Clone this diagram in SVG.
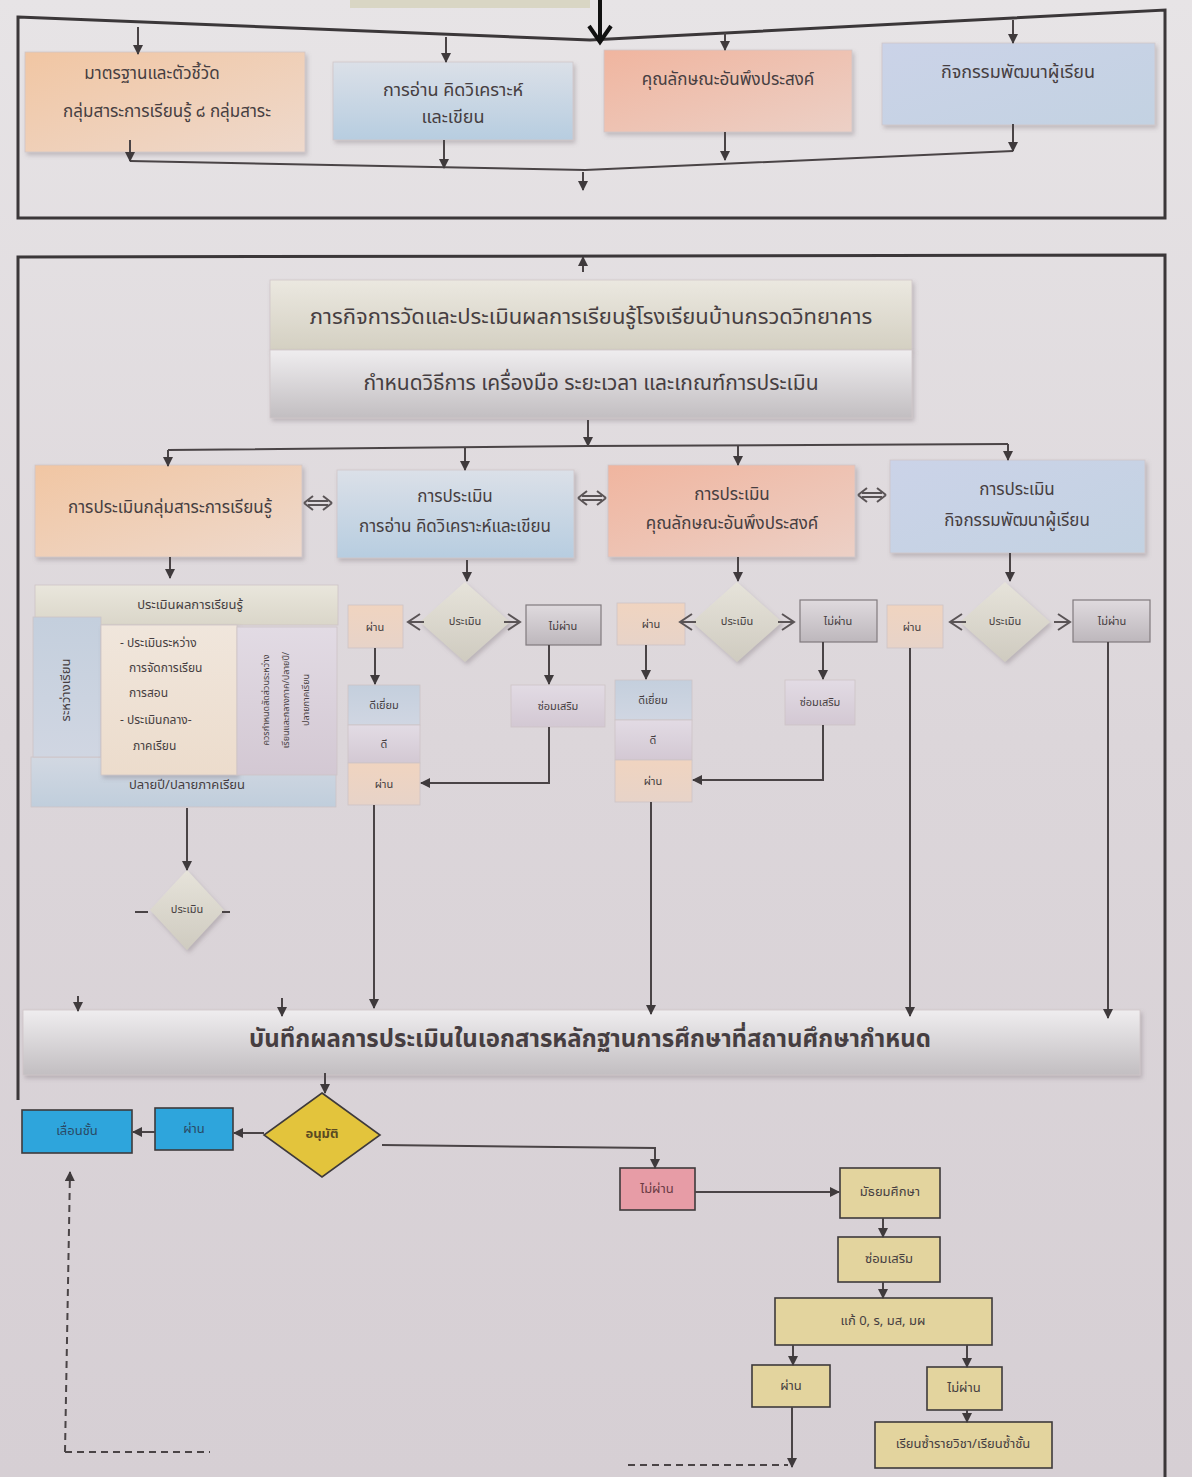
<svg xmlns="http://www.w3.org/2000/svg" width="1192" height="1477" viewBox="0 0 1192 1477">
<defs>
<style>
.t{font-family:"Noto Sans Thai","Noto Serif Thai","Loma","Garuda","Liberation Sans",sans-serif;fill:#463e41;text-anchor:middle;dominant-baseline:central}
.ln{fill:none;stroke:#4a4446;stroke-width:2}
.arr{marker-end:url(#ah)}
.frame{fill:none;stroke:#3b3739;stroke-width:3}
.bx{stroke:#cfc6c8;stroke-width:0.8;filter:url(#sh)}
.sb{stroke:#cdc4c6;stroke-width:0.8}
.gb{stroke:#807a7e;stroke-width:1.2}
.dk{stroke:#3e3a3b;stroke-width:1.6}
.dash{fill:none;stroke:#4a4446;stroke-width:2;stroke-dasharray:7 5}
.chev{fill:none;stroke:#5a5456;stroke-width:2}
</style>
<marker id="ah" viewBox="0 0 10 10" refX="9" refY="5" markerWidth="10" markerHeight="10" markerUnits="userSpaceOnUse" orient="auto-start-reverse"><path d="M0,0 L10,5 L0,10 z" fill="#3f3a3c"/></marker>
<filter id="sh" x="-5%" y="-5%" width="112%" height="120%"><feDropShadow dx="2" dy="3" stdDeviation="2" flood-color="#7a7075" flood-opacity="0.35"/></filter>
<linearGradient id="bg" x1="0" y1="0" x2="0" y2="1"><stop offset="0" stop-color="#e7e4e6"/><stop offset="0.5" stop-color="#dcd6da"/><stop offset="1" stop-color="#d6cfd4"/></linearGradient>
<linearGradient id="gO" x1="0" y1="0" x2="1" y2="1"><stop offset="0" stop-color="#f1c6a3"/><stop offset="1" stop-color="#eed9cc"/></linearGradient>
<linearGradient id="gB" x1="0" y1="0" x2="0" y2="1"><stop offset="0" stop-color="#dbe0e8"/><stop offset="1" stop-color="#b7cde0"/></linearGradient>
<linearGradient id="gS" x1="0" y1="0" x2="1" y2="1"><stop offset="0" stop-color="#f0b59f"/><stop offset="1" stop-color="#ecd0c6"/></linearGradient>
<linearGradient id="gL" x1="0" y1="0" x2="1" y2="1"><stop offset="0" stop-color="#cbd3e8"/><stop offset="1" stop-color="#c3d2e2"/></linearGradient>
<linearGradient id="gY" x1="0" y1="0" x2="0" y2="1"><stop offset="0" stop-color="#ebe8e0"/><stop offset="1" stop-color="#d4d0c2"/></linearGradient>
<linearGradient id="gG" x1="0" y1="0" x2="0" y2="1"><stop offset="0" stop-color="#efedef"/><stop offset="1" stop-color="#c2bec1"/></linearGradient>
<linearGradient id="gD" x1="0" y1="0" x2="0" y2="1"><stop offset="0" stop-color="#e6e3da"/><stop offset="1" stop-color="#cfcbc0"/></linearGradient>
<linearGradient id="gP" x1="0" y1="0" x2="0" y2="1"><stop offset="0" stop-color="#f0d4c0"/><stop offset="1" stop-color="#e7d3c8"/></linearGradient>
<linearGradient id="gN" x1="0" y1="0" x2="0" y2="1"><stop offset="0" stop-color="#dfdade"/><stop offset="1" stop-color="#bdb7bc"/></linearGradient>
<linearGradient id="gR" x1="0" y1="0" x2="0" y2="1"><stop offset="0" stop-color="#e2dbe4"/><stop offset="1" stop-color="#d3c8d3"/></linearGradient>
<linearGradient id="gX" x1="0" y1="0" x2="0" y2="1"><stop offset="0" stop-color="#c4cfdd"/><stop offset="1" stop-color="#d0d6e2"/></linearGradient>
<linearGradient id="gH" x1="0" y1="0" x2="0" y2="1"><stop offset="0" stop-color="#e9e6dc"/><stop offset="1" stop-color="#dad6c9"/></linearGradient>
<linearGradient id="gC" x1="0" y1="0" x2="0" y2="1"><stop offset="0" stop-color="#f0e6dc"/><stop offset="1" stop-color="#ecdccc"/></linearGradient>
<linearGradient id="gQ" x1="0" y1="0" x2="0" y2="1"><stop offset="0" stop-color="#d2d8e2"/><stop offset="1" stop-color="#c0cedc"/></linearGradient>
</defs>

<rect width="1192" height="1477" fill="url(#bg)"/>
<rect x="350" y="-20" width="240" height="28" fill="#d9d6c4"/>

<!-- frames -->
<path class="frame" d="M18,17 L590,40 L1165,10 L1165,218 L18,218 Z"/>
<path class="frame" d="M18,1100 L18,257 L1165,255 L1165,1477"/>

<!-- nodes: section 1 -->
<g id="std">
<rect class="bx" x="25" y="52" width="280" height="100" fill="url(#gO)"/>
<text class="t" x="152" y="74" font-size="17">มาตรฐานและตัวชี้วัด</text>
<text class="t" x="167" y="112" font-size="17">กลุ่มสาระการเรียนรู้ ๘ กลุ่มสาระ</text>
</g>
<g id="read">
<rect class="bx" x="333" y="62" width="240" height="78" fill="url(#gB)"/>
<text class="t" x="453" y="90" font-size="18">การอ่าน  คิดวิเคราะห์</text>
<text class="t" x="453" y="117" font-size="18">และเขียน</text>
</g>
<g id="char">
<rect class="bx" x="604" y="50" width="248" height="82" fill="url(#gS)"/>
<text class="t" x="728" y="80" font-size="17">คุณลักษณะอันพึงประสงค์</text>
</g>
<g id="act">
<rect class="bx" x="882" y="43" width="273" height="82" fill="url(#gL)"/>
<text class="t" x="1018" y="72" font-size="18">กิจกรรมพัฒนาผู้เรียน</text>
</g>

<!-- section 2 title -->
<g id="mission">
<rect class="bx" x="270" y="280" width="642" height="70" fill="url(#gY)"/>
<text class="t" x="591" y="317" font-size="22">ภารกิจการวัดและประเมินผลการเรียนรู้โรงเรียนบ้านกรวดวิทยาคาร</text>
</g>
<g id="define">
<rect class="bx" x="270" y="350" width="642" height="68" fill="url(#gG)"/>
<text class="t" x="591" y="383" font-size="21">กำหนดวิธีการ เครื่องมือ ระยะเวลา และเกณฑ์การประเมิน</text>
</g>

<!-- row of assessments -->
<g id="evalA">
<rect class="bx" x="35" y="465" width="267" height="92" fill="url(#gO)"/>
<text class="t" x="170" y="508" font-size="17">การประเมินกลุ่มสาระการเรียนรู้</text>
</g>
<g id="evalB">
<rect class="bx" x="337" y="470" width="237" height="88" fill="url(#gB)"/>
<text class="t" x="455" y="497" font-size="17">การประเมิน</text>
<text class="t" x="455" y="527" font-size="17">การอ่าน คิดวิเคราะห์และเขียน</text>
</g>
<g id="evalC">
<rect class="bx" x="608" y="465" width="247" height="92" fill="url(#gS)"/>
<text class="t" x="732" y="495" font-size="17">การประเมิน</text>
<text class="t" x="732" y="524" font-size="17">คุณลักษณะอันพึงประสงค์</text>
</g>
<g id="evalD">
<rect class="bx" x="890" y="460" width="255" height="93" fill="url(#gL)"/>
<text class="t" x="1017" y="490" font-size="17">การประเมิน</text>
<text class="t" x="1017" y="521" font-size="17">กิจกรรมพัฒนาผู้เรียน</text>
</g>

<!-- left panel -->
<g id="panelA">
<rect class="sb" x="35" y="585" width="303" height="40" fill="url(#gH)"/>
<text class="t" x="190" y="605" font-size="13">ประเมินผลการเรียนรู้</text>
<rect class="sb" x="31" y="757" width="305" height="50" fill="url(#gQ)"/>
<text class="t" x="187" y="785" font-size="13">ปลายปี/ปลายภาคเรียน</text>
<rect class="sb" x="33" y="617" width="68" height="140" fill="url(#gX)"/>
<text class="t" x="66" y="690" font-size="13" transform="rotate(-90 66 690)">ระหว่างเรียน</text>
<rect class="sb" x="101" y="625" width="136" height="150" fill="url(#gC)" style="filter:url(#sh)"/>
<text class="t" x="120" y="643" font-size="12" style="text-anchor:start">- ประเมินระหว่าง</text>
<text class="t" x="129" y="668" font-size="12" style="text-anchor:start">การจัดการเรียน</text>
<text class="t" x="129" y="693" font-size="12" style="text-anchor:start">การสอน</text>
<text class="t" x="120" y="720" font-size="12" style="text-anchor:start">-  ประเมินกลาง-</text>
<text class="t" x="133" y="746" font-size="12" style="text-anchor:start">ภาคเรียน</text>
<rect class="sb" x="237" y="627" width="100" height="148" fill="url(#gR)"/>
<text class="t" x="266" y="700" font-size="9" transform="rotate(-90 266 700)">ควรกำหนดสัดส่วนระหว่าง</text>
<text class="t" x="286" y="700" font-size="9" transform="rotate(-90 286 700)">เรียนและกลางภาค/ปลายปี/</text>
<text class="t" x="306" y="700" font-size="9" transform="rotate(-90 306 700)">ปลายภาคเรียน</text>
</g>
<g id="diaA">
<polygon points="187,870 224,910 187,950 150,910" fill="url(#gD)" style="filter:url(#sh)"/>
<text class="t" x="187" y="909" font-size="11">ประเมิน</text>
<path class="ln" d="M135,912 H148 M222,912 H230" stroke-width="1.6"/>
</g>

<!-- column B -->
<g id="passB"><rect class="sb" x="348" y="605" width="55" height="43" fill="url(#gP)"/><text class="t" x="375" y="627" font-size="11">ผ่าน</text></g>
<g id="diaB"><polygon points="465,582 510,622 465,662 420,622" fill="url(#gD)" style="filter:url(#sh)"/><text class="t" x="465" y="621" font-size="11">ประเมิน</text></g>
<g id="failB"><rect class="gb" x="526" y="605" width="75" height="40" fill="url(#gN)"/><text class="t" x="563" y="626" font-size="11">ไม่ผ่าน</text></g>
<g id="gradeB">
<rect class="sb" x="348" y="685" width="72" height="40" fill="url(#gX)"/><text class="t" x="384" y="705" font-size="11">ดีเยี่ยม</text>
<rect class="sb" x="348" y="725" width="72" height="38" fill="url(#gR)"/><text class="t" x="384" y="744" font-size="11">ดี</text>
<rect class="sb" x="348" y="763" width="72" height="42" fill="url(#gP)"/><text class="t" x="384" y="784" font-size="11">ผ่าน</text>
</g>
<g id="fixB"><rect class="sb" x="511" y="685" width="94" height="42" fill="url(#gR)"/><text class="t" x="558" y="706" font-size="11">ซ่อมเสริม</text></g>

<!-- column C -->
<g id="passC"><rect class="sb" x="617" y="603" width="68" height="42" fill="url(#gP)"/><text class="t" x="651" y="624" font-size="11">ผ่าน</text></g>
<g id="diaC"><polygon points="737,582 782,622 737,662 692,622" fill="url(#gD)" style="filter:url(#sh)"/><text class="t" x="737" y="621" font-size="11">ประเมิน</text></g>
<g id="failC"><rect class="gb" x="800" y="600" width="77" height="42" fill="url(#gN)"/><text class="t" x="838" y="621" font-size="11">ไม่ผ่าน</text></g>
<g id="gradeC">
<rect class="sb" x="615" y="680" width="77" height="40" fill="url(#gX)"/><text class="t" x="653" y="700" font-size="11">ดีเยี่ยม</text>
<rect class="sb" x="615" y="720" width="77" height="40" fill="url(#gR)"/><text class="t" x="653" y="740" font-size="11">ดี</text>
<rect class="sb" x="615" y="760" width="77" height="42" fill="url(#gP)"/><text class="t" x="653" y="781" font-size="11">ผ่าน</text>
</g>
<g id="fixC"><rect class="sb" x="785" y="680" width="70" height="45" fill="url(#gR)"/><text class="t" x="820" y="702" font-size="11">ซ่อมเสริม</text></g>

<!-- column D -->
<g id="passD"><rect class="sb" x="887" y="605" width="56" height="43" fill="url(#gP)"/><text class="t" x="912" y="627" font-size="11">ผ่าน</text></g>
<g id="diaD"><polygon points="1005,582 1050,622 1005,662 960,622" fill="url(#gD)" style="filter:url(#sh)"/><text class="t" x="1005" y="621" font-size="11">ประเมิน</text></g>
<g id="failD"><rect class="gb" x="1073" y="600" width="77" height="42" fill="url(#gN)"/><text class="t" x="1112" y="621" font-size="11">ไม่ผ่าน</text></g>

<!-- record bar -->
<g id="record">
<rect class="bx" x="23" y="1010" width="1117" height="65" fill="url(#gG)"/>
<text class="t" x="590" y="1040" font-size="24" font-weight="bold">บันทึกผลการประเมินในเอกสารหลักฐานการศึกษาที่สถานศึกษากำหนด</text>
</g>

<!-- bottom -->
<g id="approve"><polygon points="322,1093 380,1135 322,1177 264,1135" fill="#e3c43c" class="dk"/><text class="t" x="322" y="1134" font-size="13" font-weight="bold" style="fill:#5a4a22">อนุมัติ</text></g>
<g id="passF"><rect class="dk" x="155" y="1108" width="78" height="42" fill="#2ea5dc"/><text class="t" x="194" y="1129" font-size="13" style="fill:#2a4a66">ผ่าน</text></g>
<g id="promote"><rect class="dk" x="22" y="1110" width="110" height="43" fill="#2ea5dc"/><text class="t" x="77" y="1131" font-size="13" style="fill:#2a4a66">เลื่อนชั้น</text></g>
<g id="failF"><rect class="dk" x="620" y="1168" width="75" height="42" fill="#e79ca6"/><text class="t" x="657" y="1189" font-size="13" style="fill:#6a3a44">ไม่ผ่าน</text></g>
<g id="sec"><rect class="dk" x="840" y="1168" width="100" height="50" fill="#e3d49e"/><text class="t" x="890" y="1192" font-size="13">มัธยมศึกษา</text></g>
<g id="fixF"><rect class="dk" x="838" y="1237" width="102" height="45" fill="#e3d49e"/><text class="t" x="889" y="1259" font-size="13">ซ่อมเสริม</text></g>
<g id="fixgrade"><rect class="dk" x="775" y="1298" width="217" height="47" fill="#e3d49e"/><text class="t" x="883" y="1321" font-size="13">แก้ 0, ร, มส, มผ</text></g>
<g id="pass2"><rect class="dk" x="752" y="1365" width="78" height="42" fill="#e3d49e"/><text class="t" x="791" y="1386" font-size="13">ผ่าน</text></g>
<g id="fail2"><rect class="dk" x="927" y="1367" width="75" height="43" fill="#e3d49e"/><text class="t" x="964" y="1388" font-size="13">ไม่ผ่าน</text></g>
<g id="repeat"><rect class="dk" x="875" y="1422" width="177" height="46" fill="#e3d49e"/><text class="t" x="963" y="1444" font-size="13">เรียนซ้ำรายวิชา/เรียนซ้ำชั้น</text></g>

<!-- connectors -->
<g id="connectors">
<path d="M600,0 V40 M589,26 L600,42 L611,26" fill="none" stroke="#111" stroke-width="4"/>
<path class="ln arr" d="M138,27 V54"/>
<path class="ln arr" d="M446,37 V62"/>
<path class="ln arr" d="M725,33 V50"/>
<path class="ln arr" d="M1013,20 V43"/>
<path class="ln" d="M130,161 L585,170 L1013,151"/>
<path class="ln arr" d="M130,140 V161"/>
<path class="ln arr" d="M444,140 V168"/>
<path class="ln arr" d="M725,132 V160"/>
<path class="ln arr" d="M1013,124 V151"/>
<path class="ln arr" d="M583,172 V190"/>
<path class="ln arr" d="M583,272 V257"/>
<path class="ln arr" d="M588,420 V446"/>
<path class="ln" d="M168,450 L588,446 L1008,444"/>
<path class="ln arr" d="M168,450 V466"/>
<path class="ln arr" d="M465,448 V470"/>
<path class="ln arr" d="M738,446 V465"/>
<path class="ln arr" d="M1008,444 V460"/>
<path d="M304,503 l9,-7 M304,503 l9,7 M332,503 l-9,-7 M332,503 l-9,7 M308,501 H328 M308,505 H328" class="chev"/>
<path d="M578,498 l9,-7 M578,498 l9,7 M606,498 l-9,-7 M606,498 l-9,7 M582,496 H602 M582,500 H602" class="chev"/>
<path d="M858,495 l9,-7 M858,495 l9,7 M886,495 l-9,-7 M886,495 l-9,7 M862,493 H882 M862,497 H882" class="chev"/>
<path class="ln arr" d="M170,557 V578"/>
<path class="ln arr" d="M467,560 V581"/>
<path class="ln arr" d="M738,557 V581"/>
<path class="ln arr" d="M1010,553 V581"/>
<path class="ln arr" d="M187,808 V870"/>
<path class="chev" d="M420,614 L408,622 L420,630 M408,622 H424"/>
<path class="chev" d="M508,614 L520,622 L508,630 M504,622 H520"/>
<path class="chev" d="M692,614 L680,622 L692,630 M680,622 H696"/>
<path class="chev" d="M782,614 L794,622 L782,630 M778,622 H794"/>
<path class="chev" d="M962,614 L950,622 L962,630 M950,622 H966"/>
<path class="chev" d="M1058,614 L1070,622 L1058,630 M1054,622 H1070"/>
<path class="ln arr" d="M375,648 V684" stroke-width="2.4"/>
<path class="ln arr" d="M549,645 V684" stroke-width="2.4"/>
<path class="ln arr" d="M549,727 V783 H421"/>
<path class="ln arr" d="M374,805 V1008"/>
<path class="ln arr" d="M646,645 V679" stroke-width="2.4"/>
<path class="ln arr" d="M823,642 V679" stroke-width="2.4"/>
<path class="ln arr" d="M823,725 V780 H693"/>
<path class="ln arr" d="M651,802 V1014"/>
<path class="ln arr" d="M910,648 V1016"/>
<path class="ln arr" d="M1108,642 V1018"/>
<path class="ln arr" d="M78,996 V1011"/>
<path class="ln arr" d="M282,998 V1016"/>
<path class="ln arr" d="M325,1073 V1093"/>
<path class="ln arr" d="M264,1133 H234"/>
<path class="ln arr" d="M155,1132 H133"/>
<path class="ln arr" d="M382,1145 L655,1148 V1168"/>
<path class="ln arr" d="M695,1192 H839"/>
<path class="ln arr" d="M883,1218 V1237"/>
<path class="ln arr" d="M883,1282 V1298"/>
<path class="ln arr" d="M793,1345 V1365"/>
<path class="ln arr" d="M967,1345 V1367"/>
<path class="ln arr" d="M967,1410 V1422"/>
<path class="ln arr" d="M792,1407 V1467"/>
<path class="dash" d="M628,1465 H788"/>
<path class="dash arr" d="M65,1452 H210 M65,1452 L70,1172"/>
</g>
</svg>
